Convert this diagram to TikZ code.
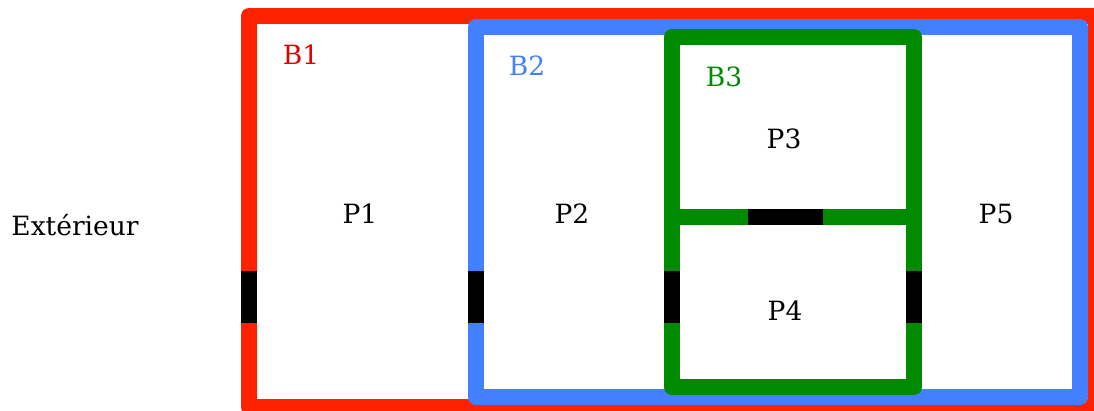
\documentclass[tikz,border=0pt]{standalone}
\usepackage{fontspec}
\setmainfont{DejaVu Serif}
\definecolor{wallred}{RGB}{255,34,0}
\definecolor{wallblue}{RGB}{66,128,255}
\definecolor{wallgreen}{RGB}{0,138,0}
\tikzset{
  wall/.style={line width=16pt, line join=round},
  door/.style={fill=black, draw=none},
  lbl/.style={font=\fontsize{26.5}{30}\selectfont, inner sep=0pt, anchor=center},
}
\begin{document}
\begin{tikzpicture}[x=1pt, y=-1pt]
  \useasboundingbox (0,0) rectangle (1094,410);
  % buildings
  \draw[wall, wallred]   (249,16) rectangle (1096,407);
  \draw[wall, wallblue]  (476,27) rectangle (1080,397);
  \draw[wall, wallgreen] (672,37) rectangle (914,387);
  \draw[line width=16pt, wallgreen] (672,217) -- (914,217);
  % doors
  \fill[door] (241,271) rectangle (257,323);
  \fill[door] (468,271) rectangle (484,323);
  \fill[door] (664,271) rectangle (680,323);
  \fill[door] (906,271) rectangle (922,323);
  \fill[door] (748,209) rectangle (823,225);
  % labels
  \node[lbl] (ext) at (75,225) {Extérieur};
  \node[lbl] (p1) at (360,214) {P1};
  \node[lbl] (p2) at (572,214) {P2};
  \node[lbl] (p3) at (784,139) {P3};
  \node[lbl] (p4) at (785,311) {P4};
  \node[lbl] (p5) at (996,214) {P5};
  \node[lbl, text=red!90!black] (b1) at (301,55) {B1};
  \node[lbl, text=wallblue] (b2) at (527,66) {B2};
  \node[lbl, text=wallgreen] (b3) at (724,77) {B3};
\end{tikzpicture}
\end{document}
